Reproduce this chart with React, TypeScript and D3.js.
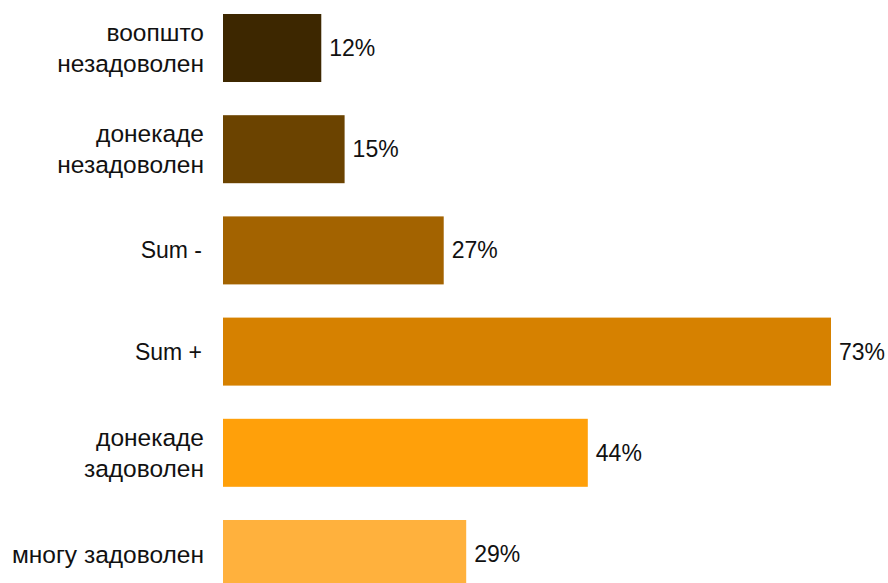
import React from "react";
import * as d3 from "d3";

const categories: string[][] = [
  ["воопшто", "незадоволен"],
  ["донекаде", "незадоволен"],
  ["Sum -"],
  ["Sum +"],
  ["донекаде", "задоволен"],
  ["многу задоволен"],
];
const values: number[] = [11.8, 14.6, 26.5, 73, 43.8, 29.2];
const valueLabels: string[] = ["12%", "15%", "27%", "73%", "44%", "29%"];
const colors: string[] = ["#3d2700", "#6b4300", "#a36300", "#d68100", "#ffa00a", "#ffb13d"];

const W = 888;
const H = 583;
const FONT = "'Liberation Sans', Arial, Helvetica, sans-serif";

export default function App() {
  const ids = categories.map((_, i) => String(i));
  const x = d3.scaleLinear().domain([0, 73]).range([223, 831]);
  const y = d3
    .scaleBand<string>()
    .domain(ids)
    .range([-2.6, -2.6 + 6 * 101.2])
    .paddingInner(0.328)
    .paddingOuter(0.164);
  const lineGap = 31;
  return (
    <svg
      width={W}
      height={H}
      style={{ position: "absolute", left: 0, top: 0, display: "block", fontFamily: FONT }}
    >
      <rect x={0} y={0} width={W} height={H} fill="#fff" />
      {values.map((v, i) => {
        const y0 = y(ids[i])!;
        const cy = y0 + y.bandwidth() / 2;
        const lines = categories[i];
        return (
          <g key={i}>
            <rect x={x(0)} y={y0} width={x(v) - x(0)} height={y.bandwidth()} fill={colors[i]} />
            <text x={x(v) + 8} y={cy} dy="0.35em" fontSize={23} fill="#111">
              {valueLabels[i]}
            </text>
            {lines.map((ln, j) => {
              const cyr = /[\u0400-\u04FF]/.test(ln);
              return (
                <text
                  key={j}
                  x={cyr ? 204 : 202}
                  y={cy + (j - (lines.length - 1) / 2) * lineGap}
                  dy="0.35em"
                  fontSize={cyr ? 24.5 : 23}
                  textAnchor="end"
                  fill="#111"
                >
                  {ln}
                </text>
              );
            })}
          </g>
        );
      })}
    </svg>
  );
}
